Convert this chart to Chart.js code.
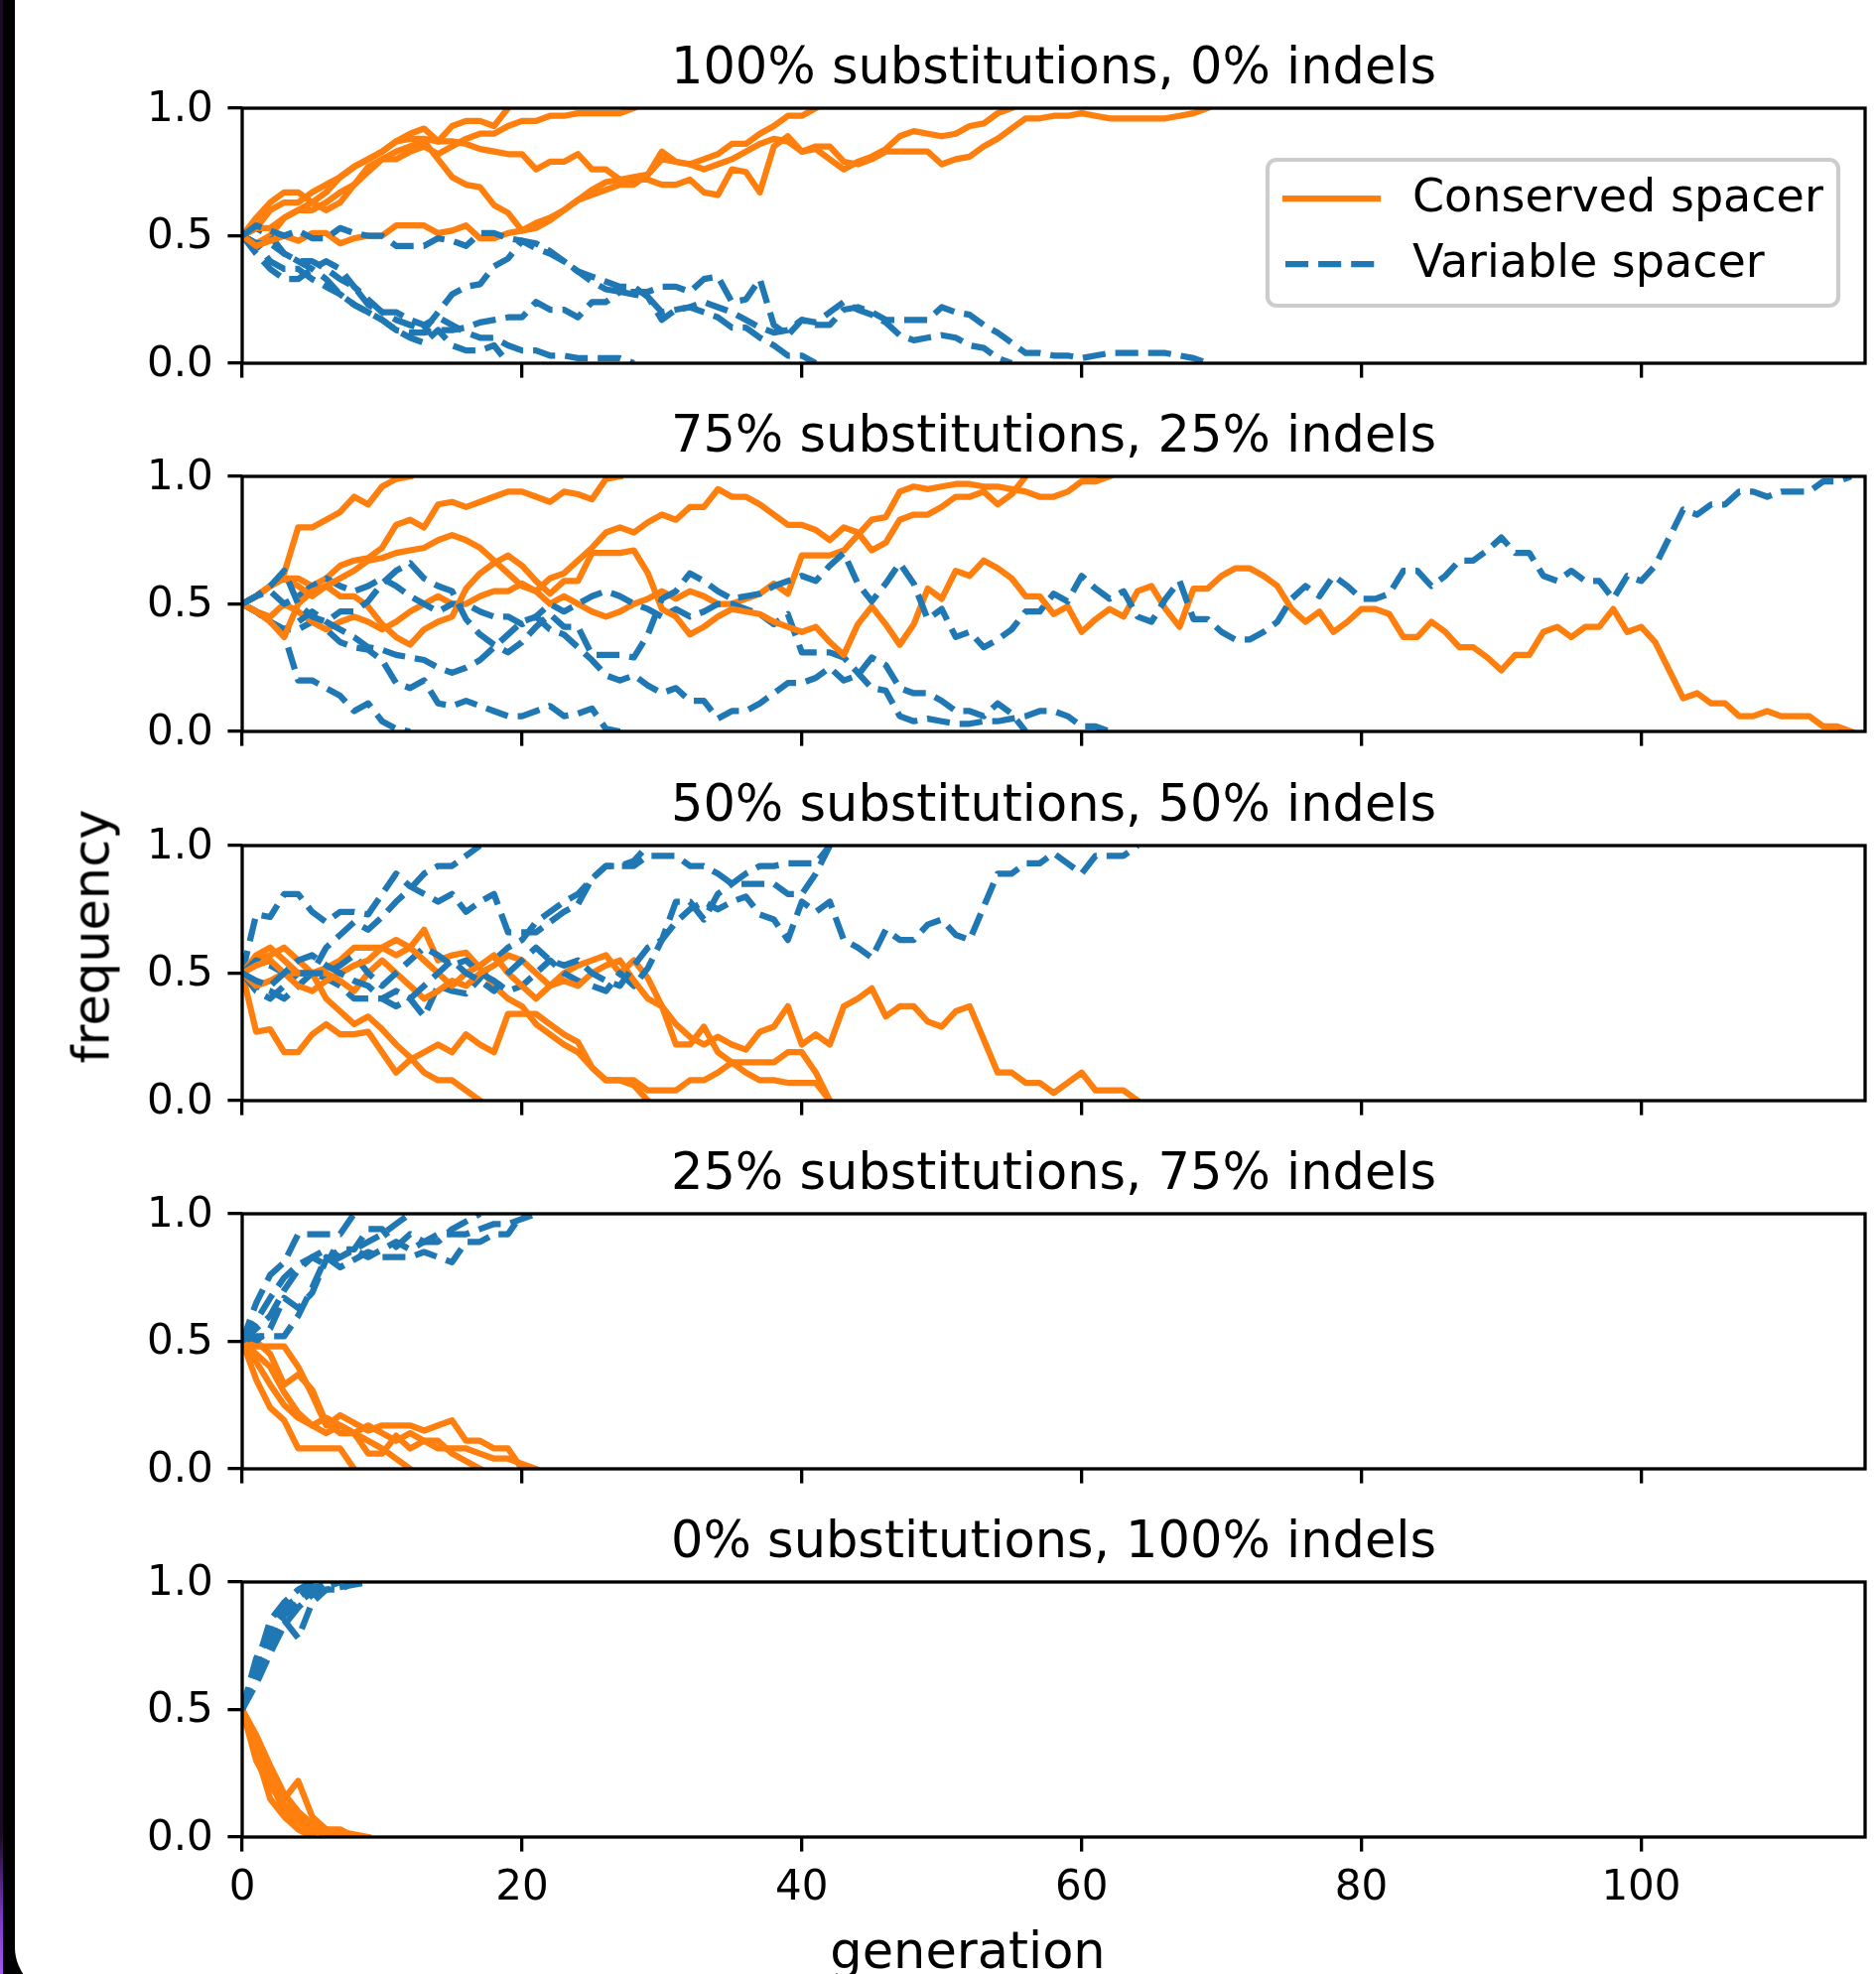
<!DOCTYPE html>
<html>
<head>
<meta charset="utf-8">
<title>Spacer frequency over generations</title>
<script src="https://cdn.jsdelivr.net/npm/chart.js@4.4.1/dist/chart.umd.min.js"></script>
<style>
  html, body { margin: 0; padding: 0; }
  body { width: 1890px; height: 1989px; background: #000; position: relative; overflow: hidden; font-family: "DejaVu Sans", sans-serif; }
  #edge { position: absolute; left: 0; top: 0; width: 3px; height: 1989px;
          background: linear-gradient(to bottom, #1b0d24 0%, #1b0d24 93%, #7a35c0 97%, #a259f0 100%); }
  #sheet { position: absolute; left: 15px; top: 0; width: 1875px; height: 2010px; background: #fff; border-bottom-left-radius: 48px; }
  .panel { position: absolute; left: 0; width: 1890px; }
  .panel canvas { display: block; }
  #ylab { position: absolute; left: -108px; top: 918px; width: 400px; height: 51px; line-height: 51px; font-size: 51px;
          text-align: center; transform: rotate(-90deg); color: #000; white-space: nowrap; }
  #xlab { position: absolute; left: 775px; top: 1940px; width: 400px; height: 51px; line-height: 51px; font-size: 51px;
          text-align: center; color: #000; white-space: nowrap; }
</style>
</head>
<body>
<div id="edge"></div>
<div id="sheet"></div>
<div id="panels"></div>
<div id="ylab">frequency</div>
<div id="xlab">generation</div>
<script>
// ---- axis ticks and labels ----
const generationTicks = [0, 20, 40, 60, 80, 100];
const frequencyTicks = [0, 0.5, 1];
const panelTitles = [
  "100% substitutions, 0% indels",
  "75% substitutions, 25% indels",
  "50% substitutions, 50% indels",
  "25% substitutions, 75% indels",
  "0% substitutions, 100% indels"
];
const legendLabels = ["Conserved spacer", "Variable spacer"];

// ---- 100% substitutions, 0% indels (one value per generation) ----
const s100_c1 = [0.5,0.47,0.5,0.57,0.6,0.63,0.67,0.73,0.77,0.8,0.83,0.87,0.9,0.92,0.87,0.93,0.95,0.95,0.93,1];
const s100_v1 = [0.5,0.53,0.5,0.43,0.4,0.37,0.33,0.27,0.23,0.2,0.17,0.13,0.1,0.08,0.13,0.07,0.05,0.05,0.07,0];
const s100_c2 = [0.5,0.53,0.53,0.57,0.6,0.6,0.63,0.67,0.7,0.77,0.8,0.8,0.83,0.85,0.82,0.85,0.88,0.9,0.9,0.93,0.95,0.95,0.97,0.97,0.98,0.98,0.98,0.98,1];
const s100_v2 = [0.5,0.47,0.47,0.43,0.4,0.4,0.37,0.33,0.3,0.23,0.2,0.2,0.17,0.15,0.18,0.15,0.12,0.1,0.1,0.07,0.05,0.05,0.03,0.03,0.02,0.02,0.02,0.02,0];
const s100_c3 = [0.5,0.57,0.63,0.67,0.67,0.63,0.6,0.63,0.7,0.75,0.8,0.83,0.85,0.87,0.8,0.73,0.7,0.69,0.62,0.59,0.52,0.53,0.56,0.6,0.64,0.66,0.68,0.7,0.7,0.74,0.83,0.79,0.78,0.8,0.82,0.86,0.86,0.9,0.93,0.97,0.97,1];
const s100_v3 = [0.5,0.43,0.37,0.33,0.33,0.37,0.4,0.37,0.3,0.25,0.2,0.17,0.15,0.13,0.2,0.27,0.3,0.31,0.38,0.41,0.48,0.47,0.44,0.4,0.36,0.34,0.32,0.3,0.3,0.26,0.17,0.21,0.22,0.2,0.18,0.14,0.14,0.1,0.07,0.03,0.03,0];
const s100_c4 = [0.5,0.53,0.6,0.63,0.63,0.67,0.7,0.73,0.77,0.8,0.83,0.87,0.88,0.88,0.87,0.87,0.86,0.84,0.83,0.82,0.82,0.76,0.79,0.79,0.82,0.76,0.76,0.72,0.73,0.74,0.8,0.79,0.78,0.76,0.78,0.8,0.83,0.86,0.88,0.87,0.83,0.84,0.8,0.76,0.79,0.81,0.84,0.89,0.91,0.9,0.89,0.9,0.93,0.94,0.98,1];
const s100_v4 = [0.5,0.47,0.4,0.37,0.37,0.33,0.3,0.27,0.23,0.2,0.17,0.13,0.12,0.12,0.13,0.13,0.14,0.16,0.17,0.18,0.18,0.24,0.21,0.21,0.18,0.24,0.24,0.28,0.27,0.26,0.2,0.21,0.22,0.24,0.22,0.2,0.17,0.14,0.12,0.13,0.17,0.16,0.2,0.24,0.21,0.19,0.16,0.11,0.09,0.1,0.11,0.1,0.07,0.06,0.02,0];
const s100_c5 = [0.5,0.46,0.48,0.5,0.48,0.51,0.51,0.47,0.49,0.5,0.5,0.54,0.54,0.54,0.51,0.52,0.54,0.49,0.49,0.51,0.52,
                 0.55,0.57,0.6,0.64,0.68,0.71,0.72,0.72,
                 0.72,0.7,0.7,0.72,0.67,0.66,0.76,0.75,0.67,0.85,0.89,0.83,0.85,0.85,0.79,0.78,0.8,0.83,0.83,0.83,0.83,0.78,0.8,0.81,0.85,0.88,0.92,0.96,0.96,0.97,0.97,0.98,0.97,0.96,0.96,0.96,0.96,0.96,0.97,0.98,1];
const s100_v5 = [0.5,0.54,0.52,0.5,0.52,0.49,0.49,0.53,0.51,0.5,0.5,0.46,0.46,0.46,0.49,0.48,0.46,0.51,0.51,0.49,0.48,
                 0.45,0.43,0.4,0.36,0.32,0.29,0.28,0.28,
                 0.28,0.3,0.3,0.28,0.33,0.34,0.24,0.25,0.33,0.15,0.11,0.17,0.15,0.15,0.21,0.22,0.2,0.17,0.17,0.17,0.17,0.22,0.2,0.19,0.15,0.12,0.08,0.04,0.04,0.03,0.03,0.02,0.03,0.04,0.04,0.04,0.04,0.04,0.03,0.02,0];

// ---- 75% substitutions, 25% indels ----
const s75_c1 = [0.5,0.53,0.57,0.62,0.8,0.8,0.83,0.86,0.92,0.89,0.96,0.99,1];
const s75_v1 = [0.5,0.47,0.43,0.38,0.2,0.2,0.17,0.14,0.08,0.11,0.04,0.01,0];
const s75_c2 = [0.5,0.53,0.57,0.6,0.6,0.57,0.6,0.65,0.67,0.68,0.72,0.81,0.83,0.8,0.89,0.9,0.88,0.9,0.92,0.94,0.94,0.92,0.9,0.94,0.93,0.91,0.99,1];
const s75_v2 = [0.5,0.47,0.43,0.4,0.4,0.43,0.4,0.35,0.33,0.32,0.28,0.19,0.17,0.2,0.11,0.1,0.12,0.1,0.08,0.06,0.06,0.08,0.1,0.06,0.07,0.09,0.01,0];
const s75_c3 = [0.5,0.47,0.45,0.5,0.47,0.43,0.4,0.43,0.45,0.43,0.4,0.43,0.47,0.5,0.53,0.5,0.5,0.53,0.55,0.55,0.58,0.55,0.6,0.62,0.67,0.72,0.78,0.8,0.78,0.82,0.85,0.83,0.88,0.88,0.95,0.92,0.92,0.89,0.85,0.81,0.81,0.79,0.75,0.8,0.78,0.71,0.74,0.83,0.85,0.85,0.88,0.92,0.92,0.94,0.89,0.93,1];
const s75_v3 = [0.5,0.53,0.55,0.5,0.53,0.57,0.6,0.57,0.55,0.57,0.6,0.57,0.53,0.5,0.47,0.5,0.5,0.47,0.45,0.45,0.42,0.45,0.4,0.38,0.33,0.28,0.22,0.2,0.22,0.18,0.15,0.17,0.12,0.12,0.05,0.08,0.08,0.11,0.15,0.19,0.19,0.21,0.25,0.2,0.22,0.29,0.26,0.17,0.15,0.15,0.12,0.08,0.08,0.06,0.11,0.07,0];
const s75_c4 = [0.5,0.53,0.57,0.6,0.57,0.53,0.57,0.6,0.63,0.67,0.68,0.7,0.71,0.72,0.75,0.77,0.75,0.72,0.67,0.62,0.57,0.55,0.5,0.53,0.5,0.47,0.45,0.47,0.5,0.52,0.55,0.52,0.55,0.53,0.5,0.5,0.52,0.54,0.58,0.54,0.69,0.69,0.69,0.71,0.77,0.83,0.84,0.94,0.96,0.95,0.96,0.97,0.97,0.96,0.96,0.95,0.94,0.92,0.92,0.94,0.98,0.98,1];
const s75_v4 = [0.5,0.47,0.43,0.4,0.43,0.47,0.43,0.4,0.37,0.33,0.32,0.3,0.29,0.28,0.25,0.23,0.25,0.28,0.33,0.38,0.43,0.45,0.5,0.47,0.5,0.53,0.55,0.53,0.5,0.48,0.45,0.48,0.45,0.47,0.5,0.5,0.48,0.46,0.42,0.46,0.31,0.31,0.31,0.29,0.23,0.17,0.16,0.06,0.04,0.05,0.04,0.03,0.03,0.04,0.04,0.05,0.06,0.08,0.08,0.06,0.02,0.02,0];
const s75_c5 = [0.5,0.47,0.43,0.37,0.5,0.55,0.57,0.53,0.53,0.49,0.42,0.37,0.34,0.4,0.43,0.45,0.56,0.62,0.66,0.69,
                0.65,0.59,0.54,0.59,0.59,0.7,0.7,0.7,0.71,0.62,0.48,0.45,0.38,0.41,0.45,0.48,0.47,0.46,
                0.43,0.41,0.39,0.41,0.35,0.3,0.42,0.49,0.42,0.34,0.42,0.56,0.52,0.63,0.61,0.67,0.64,0.6,0.53,0.53,
                0.46,0.49,0.39,0.44,0.48,0.45,0.55,0.57,0.48,0.41,0.56,0.56,0.61,0.64,0.64,0.61,0.57,0.48,0.43,0.47,
                0.39,0.43,0.48,0.48,0.46,0.37,0.37,0.43,0.39,0.33,0.33,0.29,0.24,0.3,0.3,0.39,0.41,0.37,0.41,0.41,
                0.48,0.39,0.41,0.35,0.24,0.13,0.15,0.11,0.11,0.06,0.06,0.08,0.06,0.06,0.06,0.02,0.02,0];
const s75_v5 = [0.5,0.53,0.57,0.63,0.5,0.45,0.43,0.47,0.47,0.51,0.58,0.63,0.66,0.6,0.57,0.55,0.44,0.38,0.34,0.31,
                0.35,0.41,0.46,0.41,0.41,0.3,0.3,0.3,0.29,0.38,0.52,0.55,0.62,0.59,0.55,0.52,0.53,0.54,
                0.57,0.59,0.61,0.59,0.65,0.7,0.58,0.51,0.58,0.66,0.58,0.44,0.48,0.37,0.39,0.33,0.36,0.4,0.47,0.47,
                0.54,0.51,0.61,0.56,0.52,0.55,0.45,0.43,0.52,0.59,0.44,0.44,0.39,0.36,0.36,0.39,0.43,0.52,0.57,0.53,
                0.61,0.57,0.52,0.52,0.54,0.63,0.63,0.57,0.61,0.67,0.67,0.71,0.76,0.7,0.7,0.61,0.59,0.63,0.59,0.59,
                0.52,0.61,0.59,0.65,0.76,0.87,0.85,0.89,0.89,0.94,0.94,0.92,0.94,0.94,0.94,0.98,0.98,1];

// ---- 50% substitutions, 50% indels ----
const s50_c1 = [0.5,0.55,0.57,0.6,0.55,0.5,0.4,0.35,0.3,0.33,0.28,0.22,0.17,0.11,0.08,0.08,0.04,0];
const s50_v1 = [0.5,0.45,0.43,0.4,0.45,0.5,0.6,0.65,0.7,0.67,0.72,0.78,0.83,0.89,0.92,0.92,0.96,1];
const s50_c2 = [0.5,0.27,0.28,0.19,0.19,0.26,0.3,0.26,0.26,0.27,0.19,0.11,0.16,0.19,0.22,0.19,0.26,0.22,0.19,0.34,0.34,0.34,0.3,0.26,0.23,0.13,0.08,0.08,0.06,0];
const s50_v2 = [0.5,0.73,0.72,0.81,0.81,0.74,0.7,0.74,0.74,0.73,0.81,0.89,0.84,0.81,0.78,0.81,0.74,0.78,0.81,0.66,0.66,0.66,0.7,0.74,0.77,0.87,0.92,0.92,0.94,1];
const s50_c3 = [0.5,0.57,0.6,0.55,0.5,0.5,0.52,0.55,0.6,0.6,0.6,0.57,0.6,0.67,0.55,0.57,0.58,0.52,0.45,0.4,0.37,0.3,0.26,0.22,0.19,0.13,0.08,0.08,0.08,0.04,0.04,0.04,0.08,0.08,0.11,0.15,0.15,0.15,0.15,0.19,0.19,0.11,0];
const s50_v3 = [0.5,0.43,0.4,0.45,0.5,0.5,0.48,0.45,0.4,0.4,0.4,0.43,0.4,0.33,0.45,0.43,0.42,0.48,0.55,0.6,0.63,0.7,0.74,0.78,0.81,0.87,0.92,0.92,0.92,0.96,0.96,0.96,0.92,0.92,0.89,0.85,0.85,0.85,0.85,0.81,0.81,0.89,1];
const s50_c4 = [0.5,0.45,0.47,0.5,0.5,0.5,0.5,0.47,0.43,0.5,0.55,0.5,0.45,0.4,0.43,0.47,0.45,0.5,0.53,0.57,0.55,0.5,0.45,0.5,0.53,0.55,0.57,0.5,0.55,0.48,0.37,0.22,0.22,0.29,0.19,0.15,0.11,0.08,0.08,0.07,0.07,0.07,0];
const s50_v4 = [0.5,0.55,0.53,0.5,0.5,0.5,0.5,0.53,0.57,0.5,0.45,0.5,0.55,0.6,0.57,0.53,0.55,0.5,0.47,0.43,0.45,0.5,0.55,0.5,0.47,0.45,0.43,0.5,0.45,0.52,0.63,0.78,0.78,0.71,0.81,0.85,0.89,0.92,0.92,0.93,0.93,0.93,1];
const s50_c5 = [0.5,0.53,0.55,0.5,0.45,0.43,0.47,0.5,0.53,0.55,0.6,0.63,0.6,0.55,0.5,0.45,0.5,0.53,0.57,0.5,
                0.45,0.4,0.45,0.47,0.45,0.5,0.53,0.55,0.47,0.4,0.37,0.3,0.25,0.22,0.25,0.22,0.2,0.27,0.29,0.37,
                0.22,0.26,0.22,0.37,0.4,0.44,0.33,0.37,0.37,0.31,0.29,0.35,0.37,0.24,0.11,0.11,0.07,0.07,0.03,0.07,
                0.11,0.04,0.04,0.04,0];
const s50_v5 = [0.5,0.47,0.45,0.5,0.55,0.57,0.53,0.5,0.47,0.45,0.4,0.37,0.4,0.45,0.5,0.55,0.5,0.47,0.43,0.5,
                0.55,0.6,0.55,0.53,0.55,0.5,0.47,0.45,0.53,0.6,0.63,0.7,0.75,0.78,0.75,0.78,0.8,0.73,0.71,0.63,
                0.78,0.74,0.78,0.63,0.6,0.56,0.67,0.63,0.63,0.69,0.71,0.65,0.63,0.76,0.89,0.89,0.93,0.93,0.97,0.93,
                0.89,0.96,0.96,0.96,1];

// ---- 25% substitutions, 75% indels ----
const s25_c1 = [0.5,0.35,0.24,0.19,0.08,0.08,0.08,0.08,0];
const s25_v1 = [0.5,0.65,0.76,0.81,0.92,0.92,0.92,0.92,1];
const s25_c2 = [0.5,0.42,0.33,0.25,0.2,0.17,0.14,0.17,0.14,0.11,0.08,0.04,0];
const s25_v2 = [0.5,0.58,0.67,0.75,0.8,0.83,0.86,0.83,0.86,0.89,0.92,0.96,1];
const s25_c3 = [0.5,0.5,0.45,0.33,0.37,0.31,0.18,0.14,0.14,0.06,0.06,0.13,0.08,0.11,0.11,0.06,0.03,0];
const s25_v3 = [0.5,0.5,0.55,0.67,0.63,0.69,0.82,0.86,0.86,0.94,0.94,0.87,0.92,0.89,0.89,0.94,0.97,1];
const s25_c4 = [0.5,0.48,0.48,0.48,0.4,0.29,0.17,0.21,0.18,0.15,0.17,0.17,0.17,0.15,0.17,0.19,0.11,0.11,0.08,0.08,0];
const s25_v4 = [0.5,0.52,0.52,0.52,0.6,0.71,0.83,0.79,0.82,0.85,0.83,0.83,0.83,0.85,0.83,0.81,0.89,0.89,0.92,0.92,1];
const s25_c5 = [0.5,0.45,0.4,0.3,0.22,0.17,0.2,0.17,0.14,0.17,0.14,0.11,0.14,0.11,0.08,0.08,0.08,0.06,0.04,0.04,0.02,0];
const s25_v5 = [0.5,0.55,0.6,0.7,0.78,0.83,0.8,0.83,0.86,0.83,0.86,0.89,0.86,0.89,0.92,0.92,0.92,0.94,0.96,0.96,0.98,1];

// ---- 0% substitutions, 100% indels ----
const s0_c1 = [0.5,0.33,0.15,0.08,0.03,0];
const s0_v1 = [0.5,0.67,0.85,0.92,0.97,1];
const s0_c2 = [0.5,0.3,0.2,0.13,0.08,0.04,0];
const s0_v2 = [0.5,0.7,0.8,0.87,0.92,0.96,1];
const s0_c3 = [0.5,0.35,0.22,0.1,0.06,0.02,0.02,0];
const s0_v3 = [0.5,0.65,0.78,0.9,0.94,0.98,0.98,1];
const s0_c4 = [0.5,0.35,0.24,0.15,0.22,0.08,0.03,0.03,0];
const s0_v4 = [0.5,0.65,0.76,0.85,0.78,0.92,0.97,0.97,1];
const s0_c5 = [0.5,0.4,0.28,0.17,0.1,0.05,0.03,0.02,0.01,0];
const s0_v5 = [0.5,0.6,0.72,0.83,0.9,0.95,0.97,0.98,0.99,1];

const panels = [
  { title: panelTitles[0], conserved: [s100_c1, s100_c2, s100_c3, s100_c4, s100_c5], variable: [s100_v1, s100_v2, s100_v3, s100_v4, s100_v5] },
  { title: panelTitles[1], conserved: [s75_c1, s75_c2, s75_c3, s75_c4, s75_c5], variable: [s75_v1, s75_v2, s75_v3, s75_v4, s75_v5] },
  { title: panelTitles[2], conserved: [s50_c1, s50_c2, s50_c3, s50_c4, s50_c5], variable: [s50_v1, s50_v2, s50_v3, s50_v4, s50_v5] },
  { title: panelTitles[3], conserved: [s25_c1, s25_c2, s25_c3, s25_c4, s25_c5], variable: [s25_v1, s25_v2, s25_v3, s25_v4, s25_v5] },
  { title: panelTitles[4], conserved: [s0_c1, s0_c2, s0_c3, s0_c4, s0_c5], variable: [s0_v1, s0_v2, s0_v3, s0_v4, s0_v5] }
];

// ---- styling ----
const ORANGE = "#ff7f0e";
const BLUE = "#1f77b4";
const LINE_W = 6.25;
const DASH = [23.1, 10];
const AXIS_W = 3.3;
const TICK_LEN = 14.6;
const FONT = '"DejaVu Sans"';

const PAGE_W = 1890;
const PLOT_LEFT = 244;
const PLOT_RIGHT = 1879;
const PLOT_H = 257;
const PAD_TOP = 90;
const panelTops = [109, 480, 852, 1223, 1594];
const X_MAX = 116;

function drawLegend(ctx, a) {
  const x0 = 1277, x1 = 1852, y0 = a.top + 52, y1 = a.top + 199;
  ctx.save();
  ctx.beginPath();
  ctx.roundRect(x0, y0, x1 - x0, y1 - y0, 9);
  ctx.fillStyle = "rgba(255,255,255,0.8)";
  ctx.fill();
  ctx.lineWidth = 4.2;
  ctx.strokeStyle = "#cccccc";
  ctx.stroke();
  const rows = [
    { label: legendLabels[0], color: ORANGE, dash: [], cap: "square", y: a.top + 91 },
    { label: legendLabels[1], color: BLUE, dash: DASH, cap: "butt", y: a.top + 157 }
  ];
  ctx.font = "46px " + FONT;
  ctx.textAlign = "left";
  ctx.textBaseline = "middle";
  for (const r of rows) {
    ctx.beginPath();
    ctx.setLineDash(r.dash);
    ctx.lineCap = r.cap;
    ctx.lineWidth = LINE_W;
    ctx.strokeStyle = r.color;
    ctx.moveTo(1295, r.y);
    ctx.lineTo(1388, r.y);
    ctx.stroke();
    ctx.setLineDash([]);
    ctx.fillStyle = "#000";
    ctx.fillText(r.label, 1423, r.y + 1);
  }
  ctx.restore();
}

const axesFrame = {
  id: "axesFrame",
  afterDatasetsDraw(chart, args, opts) {
    const { ctx, chartArea: a } = chart;
    ctx.save();
    ctx.setLineDash([]);
    ctx.strokeStyle = "#000";
    ctx.lineWidth = AXIS_W;
    ctx.lineJoin = "miter";
    ctx.strokeRect(a.left, a.top, a.right - a.left, a.bottom - a.top);
    ctx.fillStyle = "#000";
    ctx.font = "51px " + FONT;
    ctx.textAlign = "center";
    ctx.textBaseline = "alphabetic";
    ctx.fillText(opts.title, (a.left + a.right) / 2, a.top - 25);
    if (opts.legend) drawLegend(ctx, a);
    ctx.restore();
  }
};

const host = document.getElementById("panels");
panels.forEach((p, k) => {
  const last = k === panels.length - 1;
  const top = panelTops[k] - PAD_TOP;
  const height = last ? 1989 - top : PAD_TOP + PLOT_H + 40;
  const xAxisH = height - PAD_TOP - PLOT_H;

  const wrap = document.createElement("div");
  wrap.className = "panel";
  wrap.style.top = top + "px";
  wrap.style.height = height + "px";
  const canvas = document.createElement("canvas");
  canvas.width = PAGE_W;
  canvas.height = height;
  canvas.style.width = PAGE_W + "px";
  canvas.style.height = height + "px";
  wrap.appendChild(canvas);
  host.appendChild(wrap);

  // conserved run i is drawn, then variable run i, so later runs sit on top
  const seq = [];
  p.conserved.forEach((run, i) => {
    seq.push({ values: run, color: ORANGE, dash: [], cap: "square" });
    seq.push({ values: p.variable[i], color: BLUE, dash: DASH, cap: "butt" });
  });
  const datasets = seq.map((s, idx) => ({
    data: s.values.map((v, g) => ({ x: g, y: v })),
    borderColor: s.color,
    borderWidth: LINE_W,
    borderDash: s.dash,
    borderCapStyle: s.cap,
    borderJoinStyle: "round",
    pointRadius: 0,
    pointHoverRadius: 0,
    tension: 0,
    fill: false,
    clip: 0,
    order: seq.length - idx
  }));

  const gridOpts = {
    display: true,
    drawOnChartArea: false,
    drawTicks: true,
    tickLength: TICK_LEN,
    tickWidth: AXIS_W,
    tickColor: "#000",
    color: "#000",
    lineWidth: AXIS_W
  };

  new Chart(canvas, {
    type: "line",
    data: { datasets },
    options: {
      responsive: false,
      maintainAspectRatio: false,
      animation: false,
      devicePixelRatio: 1,
      events: [],
      layout: { padding: { top: PAD_TOP, right: PAGE_W - PLOT_RIGHT, left: 0, bottom: 0 } },
      plugins: {
        legend: { display: false },
        tooltip: { enabled: false },
        title: { display: false },
        axesFrame: { title: p.title, legend: k === 0 }
      },
      scales: {
        x: {
          type: "linear",
          min: 0,
          max: X_MAX,
          afterBuildTicks: s => { s.ticks = generationTicks.map(v => ({ value: v })); },
          afterFit: s => { s.height = xAxisH; },
          grid: gridOpts,
          border: { display: false },
          ticks: {
            display: last,
            color: "#000",
            font: { family: "DejaVu Sans", size: 42 },
            padding: 12,
            maxRotation: 0,
            minRotation: 0,
            autoSkip: false,
            callback: v => String(v)
          }
        },
        y: {
          type: "linear",
          min: 0,
          max: 1,
          afterBuildTicks: s => { s.ticks = frequencyTicks.map(v => ({ value: v })); },
          afterFit: s => { s.width = PLOT_LEFT; },
          grid: gridOpts,
          border: { display: false },
          ticks: {
            color: "#000",
            font: { family: "DejaVu Sans", size: 42 },
            padding: TICK_LEN,
            labelOffset: 2,
            autoSkip: false,
            callback: v => Number(v).toFixed(1)
          }
        }
      }
    },
    plugins: [axesFrame]
  });
});
</script>
</body>
</html>
